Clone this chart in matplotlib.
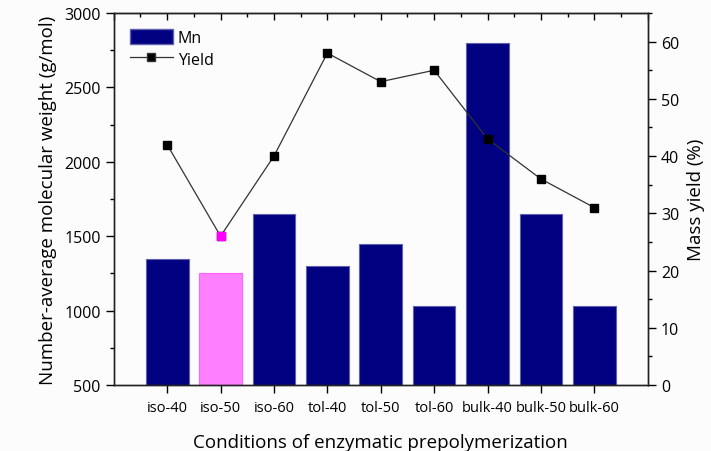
import numpy as np
import matplotlib.pyplot as plt
from matplotlib.ticker import MultipleLocator
from matplotlib.lines import Line2D
from matplotlib.patches import Patch

conditions = ['iso-40', 'iso-50', 'iso-60', 'tol-40', 'tol-50', 'tol-60',
              'bulk-40', 'bulk-50', 'bulk-60']
mn = [1350, 1250, 1650, 1300, 1450, 1030, 2800, 1650, 1030]
yield_pct = [42, 26, 40, 58, 53, 55, 43, 36, 31]
highlight = 1  # iso-50

plt.rcParams['font.family'] = ['Open Sans', 'DejaVu Sans']

fig = plt.figure(figsize=(7.11, 4.52), dpi=100, facecolor='#fcfcfc')
ax = fig.add_axes([0.160, 0.146, 0.751, 0.823])
ax.set_facecolor('#fcfcfc')

x = np.arange(1, len(conditions) + 1)
colors = ['#000080'] * len(conditions)
colors[highlight] = '#ff80ff'
edges = ['#6060b0'] * len(conditions)
edges[highlight] = '#ff60ff'
ax.bar(x, [v - 500 for v in mn], bottom=500, width=0.8, color=colors,
       edgecolor=edges, linewidth=0.8, zorder=2)

ax.set_xlim(0, 10)
ax.set_ylim(500, 3000)
ax.set_xticks(x)
ax.set_xticklabels(conditions, fontsize=10.5)
ax.yaxis.set_major_locator(MultipleLocator(500))
ax.yaxis.set_minor_locator(MultipleLocator(250))
ax.tick_params(axis='y', direction='out', labelsize=11.5, length=6, width=1)
ax.tick_params(axis='y', which='minor', direction='out', length=3, width=1)
ax.tick_params(axis='x', direction='out', length=6, width=1, pad=5)
ax.set_ylabel('Number-average molecular weight (g/mol)', fontsize=13.5, labelpad=5)
ax.set_xlabel('Conditions of enzymatic prepolymerization', fontsize=13.5, labelpad=13)

ax2 = ax.twinx()
ax2.plot(x, yield_pct, color='#333333', linewidth=0.9, marker='s',
         markersize=6, markerfacecolor='black', markeredgecolor='black', zorder=3)
ax2.plot(x[highlight], yield_pct[highlight], marker='s', markersize=6,
         color='#ff00ff', linestyle='none', zorder=4)
ax2.set_ylim(0, 65)
ax2.yaxis.set_major_locator(MultipleLocator(10))
ax2.yaxis.set_minor_locator(MultipleLocator(5))
ax2.tick_params(axis='y', direction='out', labelsize=11.5, length=6, width=1)
ax2.tick_params(axis='y', which='minor', direction='out', length=3, width=1)
ax2.set_ylabel('Mass yield (%)', fontsize=13.5, labelpad=6)

# top axis ticks
top = ax.secondary_xaxis('top')
top.set_xticks(np.arange(0, 10.5, 1.0))
top.xaxis.set_minor_locator(MultipleLocator(0.5))
top.tick_params(direction='in', length=5, width=1, labeltop=False)
top.tick_params(which='minor', direction='in', length=3, width=1)

for a in (ax, ax2):
    for s in a.spines.values():
        s.set_linewidth(1)
        s.set_color('#222222')

handles = [Patch(facecolor='#000080', edgecolor='#6060b0'),
           Line2D([0], [0], color='#333333', linewidth=0.9, marker='s',
                  markersize=6, markerfacecolor='black')]
ax2.legend(handles, ['Mn', 'Yield'], loc='upper left', frameon=False,
           fontsize=11.5, handlelength=2.7, handleheight=1.1,
           borderaxespad=0.6, labelspacing=0.3, handletextpad=0.3)

fig.savefig('out.png', dpi=100, facecolor=fig.get_facecolor())
